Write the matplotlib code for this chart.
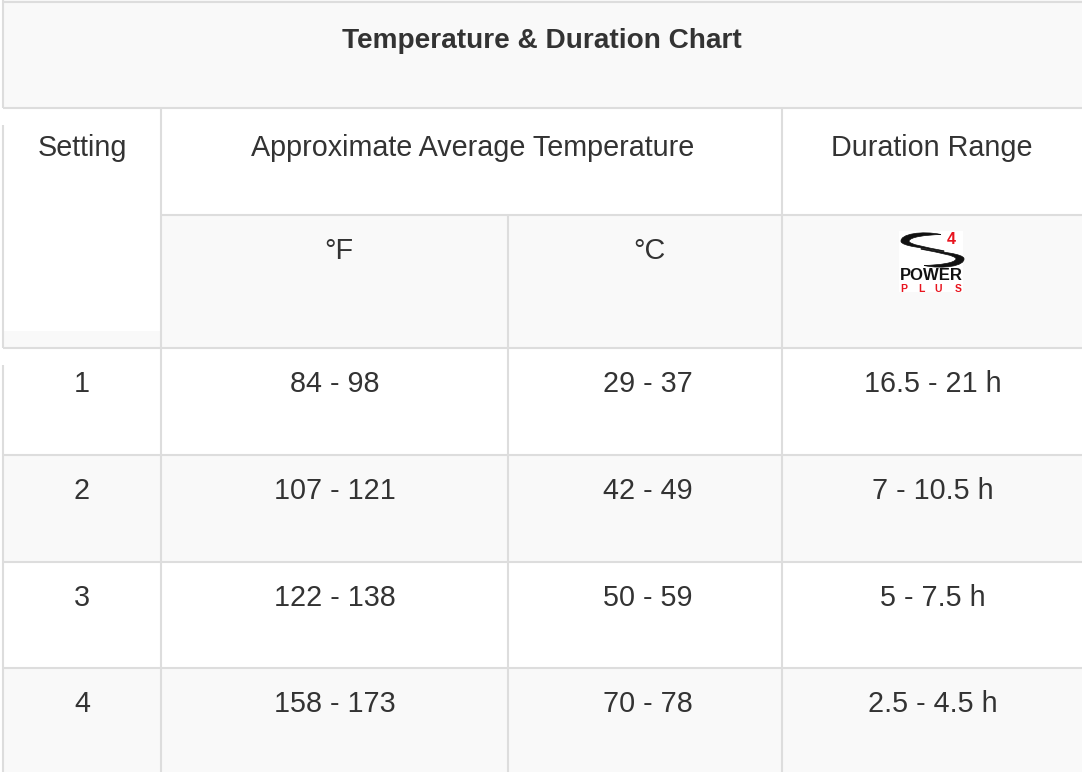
import matplotlib.pyplot as plt
from matplotlib.patches import Rectangle, PathPatch
from matplotlib.path import Path

# Table content
title = "Temperature & Duration Chart"
header_setting = "Setting"
header_temp = "Approximate Average Temperature"
header_duration = "Duration Range"
unit_labels = ["°F", "°C"]
settings = ["1", "2", "3", "4"]
temp_f = ["84 - 98", "107 - 121", "122 - 138", "158 - 173"]
temp_c = ["29 - 37", "42 - 49", "50 - 59", "70 - 78"]
durations = ["16.5 - 21 h", "7 - 10.5 h", "5 - 7.5 h", "2.5 - 4.5 h"]

# Layout (pixels)
W, H = 1082, 772
col_x = [3, 161, 508, 782, W]
row_y = [0, 108, 215, 348, 455, 562, 668, H]
gray = "#f9f9f9"
line_c = "#dddddd"
text_c = "#333333"
lw = 1.5
fs = 20.7
font = "Liberation Sans"

fig = plt.figure(figsize=(W / 100, H / 100), dpi=100)
ax = fig.add_axes([0, 0, 1, 1])
ax.set_xlim(0, W)
ax.set_ylim(H, 0)
ax.axis("off")


def fill(x0, x1, y0, y1, c):
    ax.add_patch(Rectangle((x0, y0), x1 - x0, y1 - y0, facecolor=c, edgecolor="none", zorder=0))


def hline(y, x0, x1):
    ax.plot([x0, x1], [y, y], color=line_c, lw=lw, solid_capstyle="butt", zorder=2)


def vline(x, y0, y1):
    ax.plot([x, x], [y0, y1], color=line_c, lw=lw, solid_capstyle="butt", zorder=2)


def cell_text(x, y, s, bold=False, size=fs):
    ax.text(x, y, s, ha="center", va="baseline", fontsize=size, color=text_c,
            family=font, fontweight="bold" if bold else "normal", zorder=3)


# backgrounds
fill(col_x[0], W, row_y[0], row_y[1], gray)
fill(col_x[1], W, row_y[2], row_y[3], gray)
fill(col_x[0], col_x[1], 331, row_y[3], gray)
for i in range(len(settings)):
    if i % 2 == 1:
        fill(col_x[0], W, row_y[3 + i], row_y[4 + i], gray)

# grid lines
hline(1.5, col_x[0], W)
hline(row_y[1], col_x[0], W)
hline(row_y[2], col_x[1], W)
for y in row_y[3:-1]:
    hline(y, col_x[0], W)
vline(col_x[0], 0, row_y[1])
vline(col_x[0], 125, row_y[3])
vline(col_x[0], 365, H)
vline(col_x[1], row_y[1], H)
vline(col_x[2], row_y[2], H)
vline(col_x[3], row_y[1], H)

centers = [(col_x[i] + col_x[i + 1]) / 2 for i in range(4)]

# headers
cell_text(542, 48, title, bold=True, size=20.2)
cell_text(centers[0], row_y[1] + 48, header_setting)
cell_text((col_x[1] + col_x[3]) / 2 + 1, row_y[1] + 48, header_temp)
cell_text(centers[3], row_y[1] + 48, header_duration)
cell_text(centers[1] + 4, row_y[2] + 44, unit_labels[0])
cell_text(centers[2] + 4, row_y[2] + 44, unit_labels[1])

# data rows
for i in range(len(settings)):
    yb = row_y[3 + i] + 44
    cell_text(centers[0], yb, settings[i])
    cell_text(centers[1], yb, temp_f[i])
    cell_text(centers[2] + 3, yb, temp_c[i])
    cell_text(centers[3] + 1, yb, durations[i])

# S4 Power Plus logo
lx, ly = 899, 231
fill(lx, lx + 64, ly, ly + 61, "white")
top = [(941, 234.5), (922, 230.5), (900, 234), (901, 241.5),
       (902, 246), (922, 248), (944, 251.5),
       (944, 250.8),
       (925, 247), (909, 244.5), (909, 241),
       (910, 237), (925, 235), (941, 234.5)]
codes = [Path.MOVETO, Path.CURVE4, Path.CURVE4, Path.CURVE4,
         Path.CURVE4, Path.CURVE4, Path.CURVE4,
         Path.LINETO,
         Path.CURVE4, Path.CURVE4, Path.CURVE4,
         Path.CURVE4, Path.CURVE4, Path.CURVE4]
cx, cy = 932.5, 249
bottom = [(2 * cx - x, 2 * cy - y + 2) for x, y in top]
for pts in (top, bottom):
    ax.add_patch(PathPatch(Path(pts, codes), facecolor="#111111", edgecolor="#111111",
                           lw=0.5, zorder=3))
ax.text(951.5, 244, "4", ha="center", va="baseline", fontsize=11.5,
        color="#e8141e", family=font, fontweight="bold", zorder=4)
ax.text(931, 280, "POWER", ha="center", va="baseline", fontsize=12,
        color="#111111", family=font, fontweight="bold", zorder=4)
for ch, x in zip("PLUS", [903.5, 921, 938.5, 958.5]):
    ax.text(x, 292, ch, ha="center", va="baseline", fontsize=7.5,
            color="#e8141e", family=font, fontweight="bold", zorder=4)

fig.savefig("out.png", dpi=100)
